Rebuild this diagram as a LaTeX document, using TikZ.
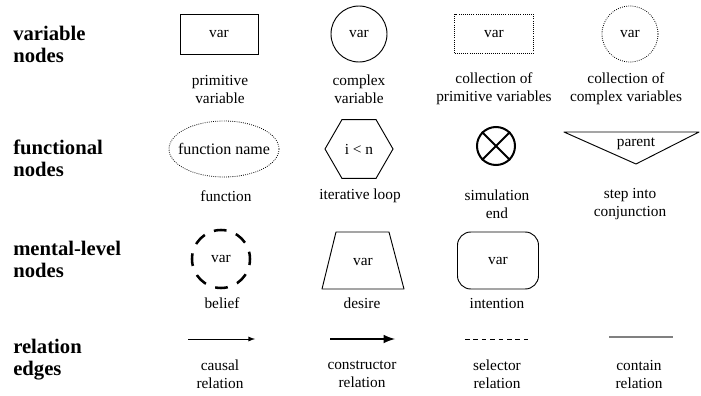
\documentclass[tikz,border=0pt]{standalone}
\usepackage{fontspec}
\setmainfont{Liberation Serif}
\usetikzlibrary{shapes.geometric}

\tikzset{
  head/.style={anchor=west, align=left, inner sep=0pt, font=\fontsize{15.5}{16.5}\selectfont\bfseries},
  lbl/.style={align=center, inner sep=0pt, font=\fontsize{11.5}{13.5}\selectfont},
  shp/.style={draw, line width=0.7pt, inner sep=0pt, font=\fontsize{11.5}{13.5}\selectfont},
  coll/.style={shp, line width=0.6pt, densely dotted},
}

\begin{document}
\begin{tikzpicture}[x=0.75pt, y=-0.75pt, >=latex]
	\useasboundingbox (0,0) rectangle (701,396);
	% row titles
	\node[head] (hvar) at (13,44) {variable\\nodes};
	\node[head] (hfun) at (13,158) {functional\\nodes};
	\node[head] (hmen) at (13,259) {mental-level\\nodes};
	\node[head] (hrel) at (13,360) {relation\\edges};
	% variable nodes
	\node[shp, minimum width=58.5pt, minimum height=30pt] (prim) at (219,34) {var};
	\node[shp, circle, minimum size=42pt] (cplx) at (359,34) {var};
	\node[coll, minimum width=59pt, minimum height=29.5pt] (cprim) at (494,34) {var};
	\node[coll, circle, minimum size=42pt] (ccplx) at (630,34) {var};
	\node[lbl] (lprim) at (220,89) {primitive\\variable};
	\node[lbl] (lcplx) at (359,89) {complex\\variable};
	\node[lbl] (lcprim) at (494,89) {collection of\\primitive variables};
	\node[lbl] (lccplx) at (626,89) {collection of\\complex variables};
	% functional nodes
	\node[lbl, font=\fontsize{12}{13.5}\selectfont] (func) at (224,149) {function name};
	\draw[line width=0.6pt, densely dotted] (func.center) ellipse [x radius=55, y radius=28];
	\node[shp, regular polygon, regular polygon sides=6, minimum size=51pt] (loop) at (359,149) {i < n};
	\node[shp, circle, line width=1.5pt, minimum size=28.5pt] (simend) at (496,146) {};
	\draw[line width=1.5pt] (simend.north west) -- (simend.south east) (simend.north east) -- (simend.south west);
	\draw[line width=0.7pt, line join=round] (564,132) -- (699,132) -- (636,164) -- cycle;
	\node[lbl] (parent) at (636,144) {parent};
	\node[lbl] (lfunc) at (226,196) {function};
	\node[lbl] (lloop) at (360,196) {iterative loop};
	\node[lbl] (lsimend) at (497,204.5) {simulation\\end};
	\node[lbl] (lstep) at (630,204.5) {step into\\conjunction};
	% mental-level nodes
	\node[shp, circle, line width=1.9pt, dash pattern=on 9.5pt off 7.5pt, dash phase=4pt, minimum size=43.5pt] (belief) at (221,259) {var};
	\draw[line width=0.7pt, line join=round] (336,232) -- (389,232) -- (404,289) -- (322,289) -- cycle;
	\node[lbl] (desire) at (363,262) {var};
	\node[shp, rounded corners=10pt, minimum width=60.75pt, minimum height=42.75pt] (intent) at (498,260.5) {var};
	\node[lbl] (lbelief) at (222,303) {belief};
	\node[lbl] (ldesire) at (362,303) {desire};
	\node[lbl] (lintent) at (497,303) {intention};
	% relation edges
	\coordinate (ca) at (188,339); \coordinate (cb) at (255,339);
	\coordinate (ka) at (330,339); \coordinate (kb) at (395,339);
	\coordinate (sa) at (465,339); \coordinate (sb) at (532,339);
	\coordinate (ta) at (609,337); \coordinate (tb) at (673,337);
	\draw[->, line width=0.7pt] (ca) -- (cb);
	\draw[->, line width=1.9pt] (ka) -- (kb);
	\draw[line width=0.6pt, dash pattern=on 3.5pt off 2.8pt] (sa) -- (sb);
	\draw[line width=1.2pt, gray] (ta) -- (tb);
	\node[lbl] (lcausal) at (220,374) {causal\\relation};
	\node[lbl] (lcons) at (362,374) {constructor\\relation};
	\node[lbl] (lsel) at (497,374) {selector\\relation};
	\node[lbl] (lcont) at (639,374) {contain\\relation};
\end{tikzpicture}
\end{document}
